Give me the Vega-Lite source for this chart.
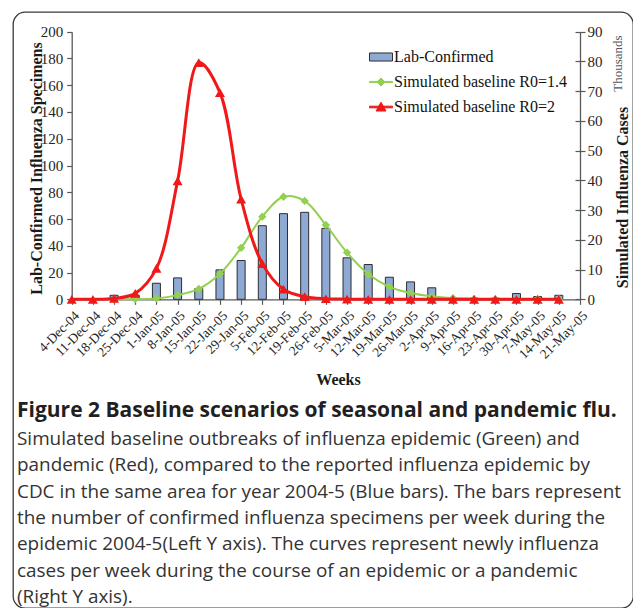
{
  "$schema": "https://vega.github.io/schema/vega-lite/v6.json",
  "width": 620,
  "height": 596,
  "padding": {"left": 13, "top": 12, "right": 0, "bottom": 0},
  "background": "white",
  "view": {"stroke": "#3a3a3a", "strokeWidth": 1.3, "cornerRadius": 12, "fill": "white"},
  "config": {
    "axis": {"labelFont": "Liberation Serif", "titleFont": "Liberation Serif", "grid": false, "domainColor": "#595959", "tickColor": "#595959", "labelColor": "#262626", "titleColor": "#1a1a1a", "domainWidth": 1.3, "tickWidth": 1.2}
  },
  "title": {
    "text": "Figure 2 Baseline scenarios of seasonal and pandemic flu.",
    "subtitle": [
      "Simulated baseline outbreaks of influenza epidemic (Green) and",
      "pandemic (Red), compared to the reported influenza epidemic by",
      "CDC in the same area for year 2004-5 (Blue bars). The bars represent",
      "the number of confirmed influenza specimens per week during the",
      "epidemic 2004-5(Left Y axis). The curves represent newly influenza",
      "cases per week during the course of an epidemic or a pandemic",
      "(Right Y axis)."
    ],
    "orient": "bottom",
    "anchor": "start",
    "frame": "group",
    "offset": -208,
    "dx": 4,
    "font": "Open Sans",
    "fontSize": 21,
    "fontWeight": "bold",
    "color": "#231f20",
    "subtitleFont": "Open Sans",
    "subtitleFontSize": 18.9,
    "subtitleColor": "#333333",
    "subtitleLineHeight": 26.3,
    "subtitlePadding": 9
  },
  "data": {"values": [
    {"week": "18-Dec-04", "series": "Lab-Confirmed", "value": 3},
    {"week": "25-Dec-04", "series": "Lab-Confirmed", "value": 3},
    {"week": "1-Jan-05", "series": "Lab-Confirmed", "value": 12},
    {"week": "8-Jan-05", "series": "Lab-Confirmed", "value": 16},
    {"week": "15-Jan-05", "series": "Lab-Confirmed", "value": 8},
    {"week": "22-Jan-05", "series": "Lab-Confirmed", "value": 22},
    {"week": "29-Jan-05", "series": "Lab-Confirmed", "value": 29},
    {"week": "5-Feb-05", "series": "Lab-Confirmed", "value": 55},
    {"week": "12-Feb-05", "series": "Lab-Confirmed", "value": 64},
    {"week": "19-Feb-05", "series": "Lab-Confirmed", "value": 65},
    {"week": "26-Feb-05", "series": "Lab-Confirmed", "value": 53},
    {"week": "5-Mar-05", "series": "Lab-Confirmed", "value": 31},
    {"week": "12-Mar-05", "series": "Lab-Confirmed", "value": 26},
    {"week": "19-Mar-05", "series": "Lab-Confirmed", "value": 16.5},
    {"week": "26-Mar-05", "series": "Lab-Confirmed", "value": 13},
    {"week": "2-Apr-05", "series": "Lab-Confirmed", "value": 8.6},
    {"week": "16-Apr-05", "series": "Lab-Confirmed", "value": 0.8},
    {"week": "23-Apr-05", "series": "Lab-Confirmed", "value": 0.8},
    {"week": "30-Apr-05", "series": "Lab-Confirmed", "value": 4.3},
    {"week": "7-May-05", "series": "Lab-Confirmed", "value": 2},
    {"week": "14-May-05", "series": "Lab-Confirmed", "value": 3},

    {"week": "18-Dec-04", "series": "Simulated baseline R0=1.4", "value": 0},
    {"week": "25-Dec-04", "series": "Simulated baseline R0=1.4", "value": 0.1},
    {"week": "1-Jan-05", "series": "Simulated baseline R0=1.4", "value": 0.3},
    {"week": "8-Jan-05", "series": "Simulated baseline R0=1.4", "value": 1.4},
    {"week": "15-Jan-05", "series": "Simulated baseline R0=1.4", "value": 3.5},
    {"week": "22-Jan-05", "series": "Simulated baseline R0=1.4", "value": 8.6},
    {"week": "29-Jan-05", "series": "Simulated baseline R0=1.4", "value": 17.3},
    {"week": "5-Feb-05", "series": "Simulated baseline R0=1.4", "value": 27.8},
    {"week": "12-Feb-05", "series": "Simulated baseline R0=1.4", "value": 34.5},
    {"week": "19-Feb-05", "series": "Simulated baseline R0=1.4", "value": 33.1},
    {"week": "26-Feb-05", "series": "Simulated baseline R0=1.4", "value": 25},
    {"week": "5-Mar-05", "series": "Simulated baseline R0=1.4", "value": 15.7},
    {"week": "12-Mar-05", "series": "Simulated baseline R0=1.4", "value": 8.5},
    {"week": "19-Mar-05", "series": "Simulated baseline R0=1.4", "value": 4.2},
    {"week": "26-Mar-05", "series": "Simulated baseline R0=1.4", "value": 2.1},
    {"week": "2-Apr-05", "series": "Simulated baseline R0=1.4", "value": 1.0},
    {"week": "9-Apr-05", "series": "Simulated baseline R0=1.4", "value": 0.4},
    {"week": "16-Apr-05", "series": "Simulated baseline R0=1.4", "value": 0.15},
    {"week": "23-Apr-05", "series": "Simulated baseline R0=1.4", "value": 0.05},
    {"week": "30-Apr-05", "series": "Simulated baseline R0=1.4", "value": 0},
    {"week": "7-May-05", "series": "Simulated baseline R0=1.4", "value": 0},
    {"week": "14-May-05", "series": "Simulated baseline R0=1.4", "value": 0},

    {"week": "4-Dec-04", "series": "Simulated baseline R0=2", "value": 0},
    {"week": "11-Dec-04", "series": "Simulated baseline R0=2", "value": 0},
    {"week": "18-Dec-04", "series": "Simulated baseline R0=2", "value": 0.3},
    {"week": "25-Dec-04", "series": "Simulated baseline R0=2", "value": 2.0},
    {"week": "1-Jan-05", "series": "Simulated baseline R0=2", "value": 10.4},
    {"week": "8-Jan-05", "series": "Simulated baseline R0=2", "value": 39.8},
    {"week": "15-Jan-05", "series": "Simulated baseline R0=2", "value": 79.6},
    {"week": "22-Jan-05", "series": "Simulated baseline R0=2", "value": 69.5},
    {"week": "29-Jan-05", "series": "Simulated baseline R0=2", "value": 33.7},
    {"week": "5-Feb-05", "series": "Simulated baseline R0=2", "value": 12},
    {"week": "12-Feb-05", "series": "Simulated baseline R0=2", "value": 3.4},
    {"week": "19-Feb-05", "series": "Simulated baseline R0=2", "value": 0.9},
    {"week": "26-Feb-05", "series": "Simulated baseline R0=2", "value": 0.2},
    {"week": "5-Mar-05", "series": "Simulated baseline R0=2", "value": 0.05},
    {"week": "12-Mar-05", "series": "Simulated baseline R0=2", "value": 0},
    {"week": "19-Mar-05", "series": "Simulated baseline R0=2", "value": 0},
    {"week": "26-Mar-05", "series": "Simulated baseline R0=2", "value": 0},
    {"week": "2-Apr-05", "series": "Simulated baseline R0=2", "value": 0},
    {"week": "9-Apr-05", "series": "Simulated baseline R0=2", "value": 0},
    {"week": "16-Apr-05", "series": "Simulated baseline R0=2", "value": 0},
    {"week": "23-Apr-05", "series": "Simulated baseline R0=2", "value": 0},
    {"week": "30-Apr-05", "series": "Simulated baseline R0=2", "value": 0},
    {"week": "7-May-05", "series": "Simulated baseline R0=2", "value": 0},
    {"week": "14-May-05", "series": "Simulated baseline R0=2", "value": 0}
  ]},
  "encoding": {
    "x": {
      "field": "week",
      "type": "ordinal",
      "scale": {
        "type": "point",
        "padding": 0,
        "range": [58.7, 567],
        "domain": ["4-Dec-04","11-Dec-04","18-Dec-04","25-Dec-04","1-Jan-05","8-Jan-05","15-Jan-05","22-Jan-05","29-Jan-05","5-Feb-05","12-Feb-05","19-Feb-05","26-Feb-05","5-Mar-05","12-Mar-05","19-Mar-05","26-Mar-05","2-Apr-05","9-Apr-05","16-Apr-05","23-Apr-05","30-Apr-05","7-May-05","14-May-05","21-May-05"]
      },
      "axis": {
        "title": "Weeks",
        "orient": "bottom",
        "offset": -308.7,
        "labelAngle": -45,
        "labelFontSize": 13.5,
        "labelOverlap": false,
        "labelFlush": false,
        "tickSize": 5,
        "labelPadding": 4,
        "titleFontSize": 16,
        "titleFontWeight": "bold",
        "titleX": 325,
        "titleY": 80,
        "titleBaseline": "middle"
      }
    }
  },
  "layer": [
    {
      "transform": [{"filter": "datum.series === 'Lab-Confirmed'"}],
      "mark": {"type": "bar", "width": 8, "fill": "#8eaad4", "stroke": "#2e2e2e", "strokeWidth": 1},
      "encoding": {
        "y": {
          "field": "value", "type": "quantitative",
          "scale": {"domain": [0, 200], "range": [287.3, 19.7], "nice": false},
          "axis": {
            "orient": "left", "offset": -58.7,
            "values": [0, 20, 40, 60, 80, 100, 120, 140, 160, 180, 200],
            "title": "Lab-Confirmed Influenza Specimens",
            "labelFontSize": 15, "tickSize": 5, "labelPadding": 4,
            "titleFontSize": 16, "titleFontWeight": "bold",
            "titleX": -35.3, "titleY": 156, "titleBaseline": "middle"
          }
        }
      }
    },
    {
      "transform": [{"filter": "datum.series === 'Simulated baseline R0=1.4'"}],
      "mark": {"type": "line", "color": "#92d050", "strokeWidth": 2, "interpolate": "catmull-rom"},
      "encoding": {
        "y": {
          "field": "value", "type": "quantitative",
          "scale": {"domain": [0, 90], "range": [287.3, 19.7], "nice": false},
          "axis": {
            "orient": "right", "offset": -53,
            "values": [0, 10, 20, 30, 40, 50, 60, 70, 80, 90],
            "title": "Simulated Influenza Cases",
            "labelFontSize": 15, "tickSize": 5, "labelPadding": 2,
            "titleFontSize": 16, "titleFontWeight": "bold", "titleAngle": 270,
            "titleX": 42.5, "titleY": 185, "titleBaseline": "middle"
          }
        }
      }
    },
    {
      "transform": [{"filter": "datum.series === 'Simulated baseline R0=1.4'"}],
      "mark": {"type": "point", "shape": "diamond", "filled": true, "color": "#92d050", "size": 70, "opacity": 1},
      "encoding": {
        "y": {"field": "value", "type": "quantitative", "scale": {"domain": [0, 90], "range": [287.3, 19.7], "nice": false}, "axis": null}
      }
    },
    {
      "transform": [{"filter": "datum.series === 'Simulated baseline R0=2'"}],
      "mark": {"type": "line", "color": "#f01818", "strokeWidth": 3, "interpolate": "catmull-rom"},
      "encoding": {
        "y": {"field": "value", "type": "quantitative", "scale": {"domain": [0, 90], "range": [287.3, 19.7], "nice": false}, "axis": null}
      }
    },
    {
      "transform": [{"filter": "datum.series === 'Simulated baseline R0=2'"}],
      "mark": {"type": "point", "shape": "triangle-up", "filled": true, "color": "#f01818", "size": 100, "opacity": 1},
      "encoding": {
        "y": {
          "field": "value", "type": "quantitative",
          "scale": {"domain": [0, 90], "range": [287.3, 19.7], "nice": false},
          "axis": {
            "orient": "right", "offset": -53,
            "values": [0, 10, 20, 30, 40, 50, 60, 70, 80, 90],
            "labels": false, "domain": false, "tickSize": -5,
            "title": "Thousands", "titleFontSize": 13, "titleFontWeight": "normal",
            "titleColor": "#555555", "titleAngle": 270,
            "titleX": 37, "titleY": 51, "titleBaseline": "middle"
          }
        }
      }
    },
    {
      "transform": [{"filter": "false"}],
      "mark": {"type": "point", "filled": true, "opacity": 1},
      "encoding": {
        "fill": {
          "field": "series", "type": "nominal",
          "scale": {"domain": ["Lab-Confirmed", "Simulated baseline R0=1.4", "Simulated baseline R0=2"], "range": ["#8eaad4", "#92d050", "#f01818"]},
          "legend": {
            "title": null, "orient": "none", "legendX": 356, "legendY": 33,
            "symbolSize": 529, "symbolStrokeWidth": 1,
            "labelFont": "Liberation Serif", "labelFontSize": 16, "labelColor": "#111111",
            "labelOffset": 1, "labelLimit": 0, "rowPadding": 5, "padding": 0
          }
        },
        "stroke": {
          "field": "series", "type": "nominal",
          "scale": {"domain": ["Lab-Confirmed", "Simulated baseline R0=1.4", "Simulated baseline R0=2"], "range": ["#2e2e2e", "#92d050", "#f01818"]}
        },
        "shape": {
          "field": "series", "type": "nominal",
          "scale": {"domain": ["Lab-Confirmed", "Simulated baseline R0=1.4", "Simulated baseline R0=2"], "range": ["M-1,-0.35H1V0.35H-1Z", "M-1,-0.05H1V0.05H-1ZM-0.35,0L0,-0.35L0.35,0L0,0.35Z", "M-1,-0.07H1V0.07H-1ZM-0.43,0.35L0,-0.42L0.43,0.35Z"]}
        }
      }
    }
  ],
  "resolve": {"scale": {"y": "independent"}, "axis": {"y": "independent"}}
}
